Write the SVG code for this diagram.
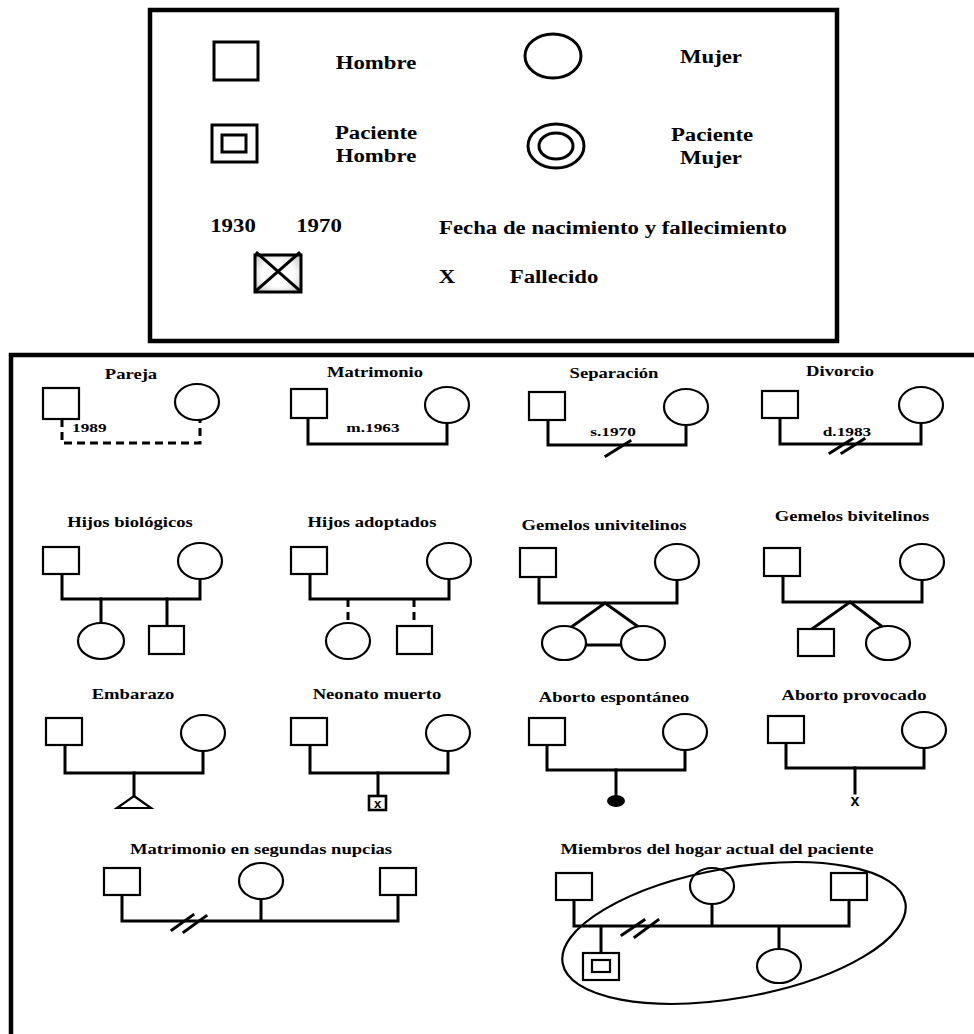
<svg xmlns="http://www.w3.org/2000/svg" width="974" height="1034" viewBox="0 0 974 1034">
<style>
.t{font-family:"Liberation Serif","Times New Roman",serif;font-weight:bold;fill:#000}
.lg{font-size:19px}
.tt{font-size:14px}
.sm{font-size:13px}
.sh{fill:#fff;stroke:#000;stroke-width:2.2}
.shl{fill:#fff;stroke:#000;stroke-width:3}
.ln{fill:none;stroke:#000;stroke-width:3;stroke-linecap:square}
.dash{stroke-dasharray:8 5;stroke-linecap:butt}
.frame{fill:none;stroke:#000;stroke-width:4.5}
</style>
<defs>
<radialGradient id="shade" cx="50%" cy="50%" r="70%">
<stop offset="0.5" stop-color="#fff"/>
<stop offset="1" stop-color="#bbb"/>
</radialGradient>
</defs>
<rect width="974" height="1034" fill="#fff"/>

<g id="legend">
<rect class="frame" x="150" y="10" width="687" height="331"/>
<g id="leg-hombre">
<rect class="shl" x="214" y="42" width="44" height="38"/>
<text class="t lg" text-anchor="middle" transform="translate(376 69) scale(1.2 1)">Hombre</text>
</g>
<g id="leg-mujer">
<ellipse class="shl" cx="553" cy="56" rx="28" ry="22"/>
<text class="t lg" text-anchor="middle" transform="translate(711 63) scale(1.2 1)">Mujer</text>
</g>
<g id="leg-paciente-hombre">
<rect class="shl" x="212" y="125" width="45" height="37"/>
<rect class="shl" x="222" y="135" width="24" height="17"/>
<text class="t lg" text-anchor="middle" transform="translate(376 139) scale(1.2 1)">Paciente</text>
<text class="t lg" text-anchor="middle" transform="translate(376 162) scale(1.2 1)">Hombre</text>
</g>
<g id="leg-paciente-mujer">
<ellipse class="shl" cx="556" cy="146" rx="28" ry="22"/>
<ellipse class="shl" cx="556" cy="146" rx="17" ry="13"/>
<text class="t lg" text-anchor="middle" transform="translate(712 141) scale(1.2 1)">Paciente</text>
<text class="t lg" text-anchor="middle" transform="translate(711 164) scale(1.2 1)">Mujer</text>
</g>
<g id="leg-fechas">
<text class="t lg" text-anchor="middle" transform="translate(233 232) scale(1.2 1)">1930</text>
<text class="t lg" text-anchor="middle" transform="translate(319 232) scale(1.2 1)">1970</text>
<text class="t lg" text-anchor="middle" transform="translate(613 234) scale(1.2 1)">Fecha de nacimiento y fallecimiento</text>
</g>
<g id="leg-fallecido">
<rect x="255" y="255" width="46" height="37" fill="url(#shade)" stroke="#000" stroke-width="3"/>
<line class="ln" x1="257" y1="253" x2="299" y2="290" stroke-linecap="butt"/>
<line class="ln" x1="299" y1="253" x2="257" y2="290" stroke-linecap="butt"/>
<text class="t lg" text-anchor="middle" transform="translate(447 283) scale(1.2 1)">X</text>
<text class="t lg" text-anchor="middle" transform="translate(554 283) scale(1.2 1)">Fallecido</text>
</g>
</g>

<g id="panel">
<path class="frame" d="M11 1034 V355 H974"/>
</g>

<g id="connectors">
<path class="ln dash" d="M62 419 V443 H200 V420"/>
<path class="ln" d="M308 418 V444 H447 V423"/>
<path class="ln" d="M548 420 V445 H686 V425"/>
<line class="ln" x1="606" y1="456" x2="630" y2="441"/>
<path class="ln" d="M780 418 V444 H921 V423"/>
<line class="ln" x1="830" y1="453" x2="852" y2="439"/>
<line class="ln" x1="842" y1="453" x2="864" y2="439"/>

<path class="ln" d="M62 574 V599 H200 V579"/>
<path class="ln" d="M101 599 V623 M167 599 V626"/>
<path class="ln" d="M310 574 V599 H449 V579"/>
<path class="ln dash" d="M348 599 V623 M414 599 V626"/>
<path class="ln" d="M539 577 V603 H677 V580"/>
<path class="ln" d="M570 628 L605 603 L640 628 M586 645 H621"/>
<path class="ln" d="M783 576 V602 H922 V580"/>
<path class="ln" d="M812 629 L850 602 L884 628"/>

<path class="ln" d="M65 745 V773 H203 V751"/>
<path class="ln" d="M134 773 V796"/>
<path class="ln" d="M310 745 V773 H448 V751"/>
<path class="ln" d="M378 773 V796"/>
<path class="ln" d="M547 745 V770 H685 V750"/>
<path class="ln" d="M616 770 V796"/>
<path class="ln" d="M786 743 V768 H924 V748"/>
<path class="ln" d="M855 768 V793"/>

<path class="ln" d="M122 895 V921 H398 V895 M261 899 V921"/>
<line class="ln" x1="172" y1="930" x2="193" y2="915"/>
<line class="ln" x1="184" y1="932" x2="206" y2="916"/>
<path class="ln" d="M574 900 V926 H849 V900 M712 904 V926 M601 926 V953 M779 926 V949"/>
<line class="ln" x1="622" y1="935" x2="644" y2="920"/>
<line class="ln" x1="635" y1="937" x2="658" y2="920"/>
</g>

<g id="pareja">
<text class="t tt" text-anchor="middle" transform="translate(131 379) scale(1.33 1)">Pareja</text>
<rect class="sh" x="43" y="388" width="36" height="31"/>
<ellipse class="sh" cx="197" cy="402" rx="22" ry="18"/>
<text class="t sm" transform="translate(72 432) scale(1.33 1)">1989</text>
</g>
<g id="matrimonio">
<text class="t tt" text-anchor="middle" transform="translate(375 377) scale(1.33 1)">Matrimonio</text>
<rect class="sh" x="291" y="389" width="36" height="29"/>
<ellipse class="sh" cx="447" cy="405" rx="22" ry="18"/>
<text class="t sm" text-anchor="middle" transform="translate(373 432) scale(1.33 1)">m.1963</text>
</g>
<g id="separacion">
<text class="t tt" text-anchor="middle" transform="translate(614 378) scale(1.33 1)">Separación</text>
<rect class="sh" x="529" y="392" width="36" height="28"/>
<ellipse class="sh" cx="686" cy="407" rx="22" ry="18"/>
<text class="t sm" text-anchor="middle" transform="translate(613 436) scale(1.33 1)">s.1970</text>
</g>
<g id="divorcio">
<text class="t tt" text-anchor="middle" transform="translate(840 376) scale(1.33 1)">Divorcio</text>
<rect class="sh" x="762" y="391" width="36" height="27"/>
<ellipse class="sh" cx="921" cy="405" rx="22" ry="18"/>
<text class="t sm" text-anchor="middle" transform="translate(847 436) scale(1.33 1)">d.1983</text>
</g>

<g id="hijos-biologicos">
<text class="t tt" text-anchor="middle" transform="translate(130 527) scale(1.33 1)">Hijos biológicos</text>
<rect class="sh" x="43" y="547" width="36" height="27"/>
<ellipse class="sh" cx="200" cy="561" rx="22" ry="18"/>
<ellipse class="sh" cx="101" cy="641" rx="23" ry="18"/>
<rect class="sh" x="149" y="626" width="35" height="28"/>
</g>
<g id="hijos-adoptados">
<text class="t tt" text-anchor="middle" transform="translate(372 527) scale(1.33 1)">Hijos adoptados</text>
<rect class="sh" x="291" y="547" width="36" height="27"/>
<ellipse class="sh" cx="449" cy="561" rx="22" ry="18"/>
<ellipse class="sh" cx="348" cy="641" rx="22" ry="18"/>
<rect class="sh" x="397" y="626" width="35" height="28"/>
</g>
<g id="gemelos-univitelinos">
<text class="t tt" text-anchor="middle" transform="translate(604 530) scale(1.33 1)">Gemelos univitelinos</text>
<rect class="sh" x="520" y="548" width="36" height="29"/>
<ellipse class="sh" cx="677" cy="562" rx="22" ry="18"/>
<ellipse class="sh" cx="564" cy="643" rx="22" ry="17"/>
<ellipse class="sh" cx="643" cy="643" rx="22" ry="17"/>
</g>
<g id="gemelos-bivitelinos">
<text class="t tt" text-anchor="middle" transform="translate(852 521) scale(1.33 1)">Gemelos bivitelinos</text>
<rect class="sh" x="764" y="548" width="36" height="28"/>
<ellipse class="sh" cx="922" cy="562" rx="22" ry="18"/>
<rect class="sh" x="798" y="629" width="36" height="27"/>
<ellipse class="sh" cx="888" cy="643" rx="22" ry="17"/>
</g>

<g id="embarazo">
<text class="t tt" text-anchor="middle" transform="translate(133 699) scale(1.33 1)">Embarazo</text>
<rect class="sh" x="46" y="718" width="36" height="27"/>
<ellipse class="sh" cx="203" cy="733" rx="22" ry="18"/>
<path class="sh" d="M134 796 L151 808 H117 Z"/>
</g>
<g id="neonato-muerto">
<text class="t tt" text-anchor="middle" transform="translate(377 699) scale(1.33 1)">Neonato muerto</text>
<rect class="sh" x="291" y="718" width="36" height="27"/>
<ellipse class="sh" cx="448" cy="733" rx="22" ry="18"/>
<rect x="369" y="796" width="17" height="14" fill="#fff" stroke="#000" stroke-width="2.6"/>
<text class="t" style="font-family:'Liberation Sans',Arial,sans-serif;font-size:13px" text-anchor="middle" x="377.5" y="808">x</text>
</g>
<g id="aborto-espontaneo">
<text class="t tt" text-anchor="middle" transform="translate(614 702) scale(1.33 1)">Aborto espontáneo</text>
<rect class="sh" x="529" y="718" width="36" height="27"/>
<ellipse class="sh" cx="685" cy="732" rx="22" ry="18"/>
<ellipse cx="616" cy="801" rx="9" ry="6" fill="#000"/>
</g>
<g id="aborto-provocado">
<text class="t tt" text-anchor="middle" transform="translate(854 700) scale(1.33 1)">Aborto provocado</text>
<rect class="sh" x="768" y="716" width="36" height="27"/>
<ellipse class="sh" cx="924" cy="730" rx="22" ry="18"/>
<text class="t" style="font-family:'Liberation Sans',Arial,sans-serif;font-size:16px" text-anchor="middle" x="855" y="806">x</text>
</g>

<g id="segundas-nupcias">
<text class="t tt" text-anchor="middle" transform="translate(261 854) scale(1.33 1)">Matrimonio en segundas nupcias</text>
<rect class="sh" x="104" y="868" width="36" height="27"/>
<ellipse class="sh" cx="261" cy="881" rx="22" ry="18"/>
<rect class="sh" x="380" y="868" width="36" height="27"/>
</g>
<g id="hogar-actual">
<text class="t tt" text-anchor="middle" transform="translate(717 854) scale(1.33 1)">Miembros del hogar actual del paciente</text>
<rect class="sh" x="556" y="873" width="36" height="27"/>
<ellipse class="sh" cx="712" cy="886" rx="22" ry="18"/>
<rect class="sh" x="831" y="873" width="36" height="27"/>
<rect class="sh" x="583" y="953" width="36" height="27"/>
<rect class="sh" x="592" y="960" width="18" height="12"/>
<ellipse class="sh" cx="779" cy="966" rx="22" ry="17"/>
<ellipse cx="734" cy="933" rx="174" ry="65" transform="rotate(-10 734 933)" fill="none" stroke="#000" stroke-width="2.2"/>
</g>
</svg>
